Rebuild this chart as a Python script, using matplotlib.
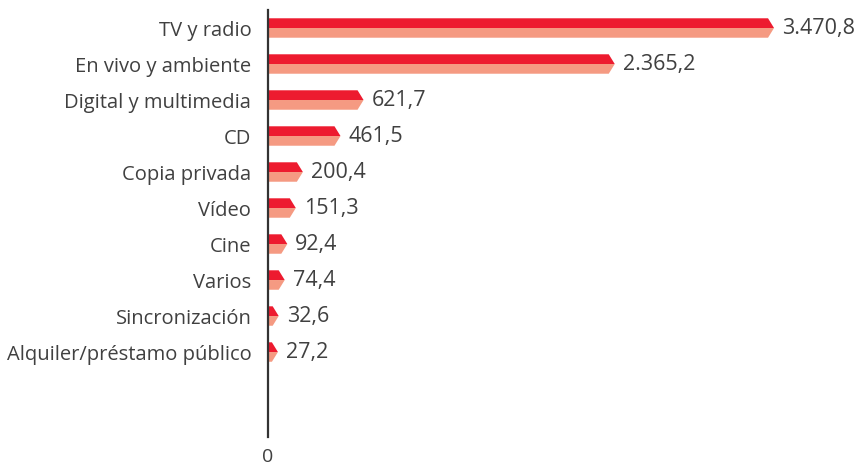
import matplotlib
matplotlib.use('Agg')
import matplotlib.pyplot as plt

# datos (millones de euros)
categorias = ['TV y radio', 'En vivo y ambiente', 'Digital y multimedia', 'CD',
              'Copia privada', 'Vídeo', 'Cine', 'Varios', 'Sincronización',
              'Alquiler/préstamo público']
valores = [3470.8, 2365.2, 621.7, 461.5, 200.4, 151.3, 92.4, 74.4, 32.6, 27.2]
etiquetas = ['3.470,8', '2.365,2', '621,7', '461,5', '200,4', '151,3', '92,4',
             '74,4', '32,6', '27,2']

rojo = '#ED1B2F'
salmon = '#F59A82'
gris = '#404040'

plt.rcParams['font.family'] = ['Open Sans', 'DejaVu Sans']

fig = plt.figure(figsize=(8.63, 4.66), dpi=100)
ax = fig.add_axes([268 / 863, 29 / 466, 595 / 863, 427 / 466])

xmax = 4130
ax.set_xlim(0, xmax)
ax.set_ylim(11.36, -0.5)

punta = 6 * xmax / 595   # ancho de la punta de flecha (6 px)
alto = 0.27              # media altura de la barra

for i, v in enumerate(valores):
    # mitad superior roja
    ax.fill([0, v, v + punta, 0], [i - alto, i - alto, i, i],
            color=rojo, lw=0)
    # mitad inferior salmón
    ax.fill([0, v + punta, v, 0], [i, i, i + alto, i + alto],
            color=salmon, lw=0)
    ax.text(v + punta + 8 * xmax / 595, i, etiquetas[i], va='center',
            ha='left', fontsize=15.5, color=gris)

ax.set_yticks(range(len(categorias)))
ax.set_yticklabels(categorias, fontsize=14.5, color=gris)
ax.tick_params(axis='y', length=0, pad=12)
ax.set_xticks([0])
ax.set_xticklabels(['0'], fontsize=14, color=gris)
ax.tick_params(axis='x', length=0, pad=8)

for s in ['top', 'right', 'bottom']:
    ax.spines[s].set_visible(False)
ax.spines['left'].set_color('#333333')
ax.spines['left'].set_linewidth(1.6)

fig.savefig('out.png', dpi=100)
